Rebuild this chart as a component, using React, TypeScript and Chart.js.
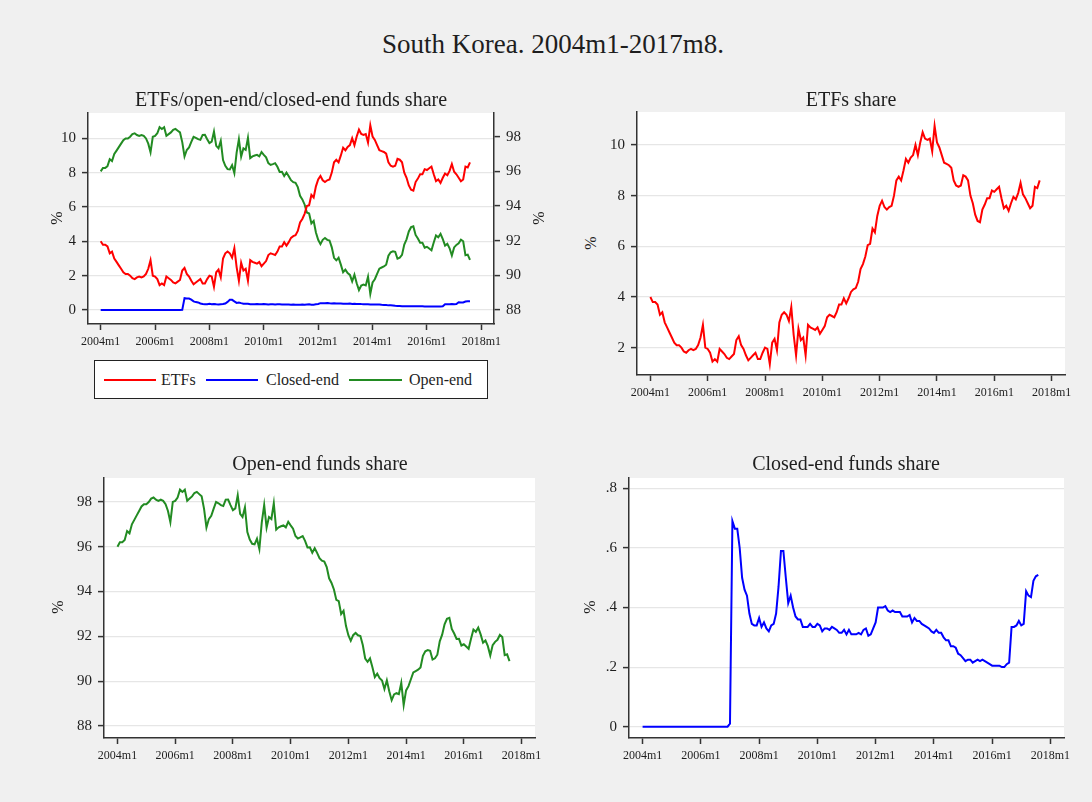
import React, { useEffect, useRef } from "react";
import { Chart, registerables } from "chart.js";

Chart.register(...registerables);

// Monthly shares, 2004m1 .. 2017m8 (164 months), in percent.
const etfShare = [
  4.0, 3.8, 3.8, 3.7, 3.3, 3.4, 3.0, 2.8, 2.6, 2.4, 2.2, 2.1,
  2.1, 2.0, 1.85, 1.8, 1.9, 1.95, 1.9, 1.95, 2.1, 2.4, 2.9, 2.0,
  1.95, 1.8, 1.45, 1.55, 1.45, 1.95, 1.85, 1.75, 1.6, 1.55, 1.65, 1.75,
  2.3, 2.45, 2.1, 1.95, 1.7, 1.5, 1.6, 1.7, 1.8, 1.55, 1.55, 1.8,
  2.0, 1.95, 1.35, 2.2, 2.35, 1.9, 3.0, 3.3, 3.4, 3.3, 3.05, 3.6,
  2.5, 1.7, 2.75, 2.3, 2.4, 1.7, 2.9, 2.8, 2.75, 2.7, 2.8, 2.55,
  2.7, 2.85, 3.2, 3.3, 3.25, 3.2, 3.4, 3.7, 3.7, 3.95, 3.75, 3.95,
  4.2, 4.3, 4.35, 4.6, 5.1, 5.3, 5.6, 6.05, 6.1, 6.7, 6.55, 7.2,
  7.6, 7.8, 7.55, 7.45, 7.55, 7.6, 8.0, 8.6, 8.75, 8.6, 9.0, 9.45,
  9.3, 9.5, 9.6, 10.0, 9.6, 10.1, 10.5, 10.25, 10.2, 10.25, 9.75, 10.75,
  10.1, 9.9, 9.6, 9.3, 9.25, 9.2, 9.1, 8.6, 8.4, 8.35, 8.4, 8.8,
  8.75, 8.6, 8.0, 7.7, 7.25, 7.0, 6.95, 7.45, 7.65, 7.9, 7.9, 8.2,
  8.15, 8.25, 8.35, 7.9, 7.5, 7.6, 7.4, 7.7, 7.95, 7.85, 8.1, 8.5,
  8.05, 7.9, 7.7, 7.5, 7.6, 8.35, 8.3, 8.6,
];

const closedShare = [
  0, 0, 0, 0, 0, 0, 0, 0, 0, 0, 0, 0,
  0, 0, 0, 0, 0, 0, 0, 0, 0, 0, 0, 0,
  0, 0, 0, 0, 0, 0, 0, 0, 0, 0, 0, 0,
  0.01, 0.69, 0.665, 0.665, 0.6, 0.5, 0.46, 0.44, 0.38, 0.345, 0.34, 0.34,
  0.365, 0.335, 0.35, 0.33, 0.32, 0.34, 0.345, 0.38, 0.47, 0.59, 0.59, 0.5,
  0.415, 0.44, 0.4, 0.37, 0.36, 0.36, 0.335, 0.335, 0.335, 0.345, 0.335, 0.335,
  0.345, 0.34, 0.32, 0.33, 0.33, 0.325, 0.335, 0.33, 0.325, 0.315, 0.315, 0.325,
  0.31, 0.325, 0.31, 0.31, 0.31, 0.315, 0.31, 0.325, 0.33, 0.305, 0.31, 0.33,
  0.35, 0.4, 0.4, 0.4, 0.405, 0.39, 0.385, 0.39, 0.385, 0.385, 0.385, 0.37,
  0.37, 0.37, 0.375, 0.35, 0.365, 0.355, 0.355, 0.345, 0.34, 0.335, 0.33, 0.32,
  0.315, 0.325, 0.315, 0.315, 0.3, 0.29, 0.29, 0.27, 0.27, 0.265, 0.245, 0.24,
  0.23, 0.22, 0.225, 0.225, 0.215, 0.22, 0.225, 0.22, 0.225, 0.22, 0.215, 0.21,
  0.205, 0.205, 0.205, 0.205, 0.2, 0.2, 0.21, 0.215, 0.335, 0.335, 0.34, 0.355,
  0.34, 0.345, 0.455, 0.44, 0.435, 0.49, 0.505, 0.51,
];

const openShare = [
  96.0, 96.2, 96.2, 96.3, 96.7, 96.6, 97.0, 97.2, 97.4, 97.6, 97.8, 97.9,
  97.9, 98.0, 98.15, 98.2, 98.1, 98.05, 98.1, 98.05, 97.9, 97.6, 97.1, 98.0,
  98.05, 98.2, 98.55, 98.45, 98.55, 98.05, 98.15, 98.25, 98.4, 98.45, 98.35, 98.25,
  97.69, 96.86, 97.235, 97.385, 97.7, 98.0, 97.94, 97.86, 97.82, 98.105, 98.11, 97.86,
  97.635, 97.715, 98.3, 97.47, 97.33, 97.76, 96.655, 96.32, 96.13, 96.11, 96.36, 95.9,
  97.085, 97.86, 96.85, 97.33, 97.24, 97.94, 96.765, 96.865, 96.915, 96.955, 96.865, 97.115,
  96.955, 96.81, 96.48, 96.37, 96.42, 96.475, 96.265, 95.97, 95.975, 95.735, 95.935, 95.725,
  95.49, 95.375, 95.34, 95.09, 94.59, 94.385, 94.09, 93.625, 93.57, 92.995, 93.14, 92.47,
  92.05, 91.8, 92.05, 92.15, 92.045, 92.01, 91.615, 91.01, 90.865, 91.015, 90.615, 90.18,
  90.33, 90.13, 90.025, 89.65, 90.035, 89.545, 89.145, 89.405, 89.46, 89.415, 89.92, 88.93,
  89.585, 89.775, 90.085, 90.385, 90.45, 90.51, 90.61, 91.13, 91.33, 91.385, 91.355, 90.96,
  91.02, 91.18, 91.775, 92.075, 92.535, 92.78, 92.825, 92.33, 92.125, 91.88, 91.885, 91.59,
  91.645, 91.545, 91.445, 91.895, 92.3, 92.2, 92.39, 92.085, 91.715, 91.815, 91.56, 91.145,
  91.61, 91.755, 91.845, 92.06, 91.965, 91.16, 91.195, 90.89,
];

// X axis: months counted from 2004m1.
const xTickMonths = [0, 24, 48, 72, 96, 120, 144, 168];
const xTickLabels = ["2004m1", "2006m1", "2008m1", "2010m1", "2012m1", "2014m1", "2016m1", "2018m1"];

const shareTicks = [0, 2, 4, 6, 8, 10];
const shareTickLabels = ["0", "2", "4", "6", "8", "10"];
const etfTicks = [2, 4, 6, 8, 10];
const etfTickLabels = ["2", "4", "6", "8", "10"];
const openTicks = [88, 90, 92, 94, 96, 98];
const openTickLabels = ["88", "90", "92", "94", "96", "98"];
const closedTicks = [0, 0.2, 0.4, 0.6, 0.8];
const closedTickLabels = ["0", ".2", ".4", ".6", ".8"];

const SERIF = "'Liberation Serif', 'Times New Roman', serif";
const RED = "#ff0000";
const BLUE = "#0000ff";
const GREEN = "#228b22";
const AXIS = "#333333";
const GRID = "#e6e6e6";
const INK = "#1e1e1e";
const X_MIN = -5.6;
const X_MAX = 173.6;

const toPoints = (values: number[]) => values.map((v, i) => ({ x: i, y: v }));

const plotBackground = {
  id: "plotBackground",
  beforeDraw(chart: any) {
    const { ctx, chartArea: a } = chart;
    ctx.save();
    ctx.fillStyle = "#ffffff";
    ctx.fillRect(a.left, a.top, a.right - a.left, a.bottom - a.top);
    ctx.restore();
  },
};

function xScale(height: number) {
  return {
    type: "linear",
    min: X_MIN,
    max: X_MAX,
    bounds: "data",
    afterBuildTicks: (s: any) => {
      s.ticks = xTickMonths.map((v) => ({ value: v }));
    },
    afterFit: (s: any) => {
      s.height = height;
      s.paddingLeft = 0;
      s.paddingRight = 0;
    },
    ticks: {
      autoSkip: false,
      maxRotation: 0,
      minRotation: 0,
      padding: 5,
      color: INK,
      font: { family: SERIF, size: 12 },
      callback: (_v: any, i: number) => xTickLabels[i],
    },
    grid: {
      drawOnChartArea: false,
      drawTicks: true,
      tickLength: 6,
      tickColor: AXIS,
      tickWidth: 1.5,
    },
    border: { display: true, color: AXIS, width: 1.5 },
  };
}

function yScale(
  min: number,
  max: number,
  ticks: number[],
  labels: string[],
  width: number,
  position: "left" | "right" = "left",
  showGrid = true
) {
  return {
    type: "linear",
    position,
    min,
    max,
    bounds: "data",
    afterBuildTicks: (s: any) => {
      s.ticks = ticks.map((v) => ({ value: v }));
    },
    afterFit: (s: any) => {
      s.width = width;
      s.paddingTop = 0;
      s.paddingBottom = 0;
    },
    ticks: {
      padding: 6,
      color: INK,
      font: { family: SERIF, size: 15 },
      callback: (_v: any, i: number) => labels[i],
    },
    grid: {
      drawOnChartArea: showGrid,
      color: GRID,
      lineWidth: 1.2,
      drawTicks: true,
      tickLength: 6,
      tickColor: AXIS,
      tickWidth: 1.5,
    },
    border: { display: true, color: AXIS, width: 1.5 },
  };
}

function line(label: string, values: number[], color: string, yAxisID = "y") {
  return {
    label,
    data: toPoints(values),
    borderColor: color,
    backgroundColor: color,
    borderWidth: 2,
    pointRadius: 0,
    tension: 0,
    fill: false,
    yAxisID,
  };
}

type PanelProps = {
  left: number;
  top: number;
  width: number;
  height: number;
  padTop: number;
  padRight: number;
  datasets: any[];
  scales: any;
};

function Panel({ left, top, width, height, padTop, padRight, datasets, scales }: PanelProps) {
  const ref = useRef<HTMLCanvasElement | null>(null);
  useEffect(() => {
    if (!ref.current) return;
    const chart = new Chart(ref.current, {
      type: "line",
      data: { datasets },
      options: {
        responsive: false,
        animation: false,
        devicePixelRatio: 1,
        layout: { padding: { top: padTop, right: padRight, left: 0, bottom: 0 } },
        plugins: { legend: { display: false }, tooltip: { enabled: false } },
        scales,
      } as any,
      plugins: [plotBackground],
    } as any);
    return () => chart.destroy();
  }, []);
  return (
    <canvas
      ref={ref}
      width={width}
      height={height}
      style={{ position: "absolute", left, top, width, height }}
    />
  );
}

function Title({ text, cx, cy, size }: { text: string; cx: number; cy: number; size: number }) {
  return (
    <div
      style={{
        position: "absolute",
        left: cx - 300,
        top: cy - size * 0.6,
        width: 600,
        textAlign: "center",
        fontFamily: SERIF,
        fontSize: size,
        lineHeight: `${size * 1.2}px`,
        color: INK,
        whiteSpace: "nowrap",
      }}
    >
      {text}
    </div>
  );
}

function AxisTitle({ cx, cy }: { cx: number; cy: number }) {
  return (
    <div
      style={{
        position: "absolute",
        left: cx,
        top: cy,
        transform: "translate(-50%, -50%) rotate(-90deg)",
        fontFamily: SERIF,
        fontSize: 16,
        lineHeight: "16px",
        color: INK,
      }}
    >
      %
    </div>
  );
}

function LegendItem({ x1, x2, tx, color, label }: { x1: number; x2: number; tx: number; color: string; label: string }) {
  return (
    <>
      <div style={{ position: "absolute", left: x1, top: 379, width: x2 - x1, height: 2, background: color }} />
      <div
        style={{
          position: "absolute",
          left: tx,
          top: 370,
          fontFamily: SERIF,
          fontSize: 16,
          lineHeight: "20px",
          color: INK,
          whiteSpace: "nowrap",
        }}
      >
        {label}
      </div>
    </>
  );
}

export default function App() {
  return (
    <div
      style={{
        position: "absolute",
        left: 0,
        top: 0,
        width: 1092,
        height: 802,
        background: "#f0f0f0",
        overflow: "hidden",
      }}
    >
      {/* Combined panel: ETFs and closed-end on the left axis, open-end on the right axis */}
      <Panel
        left={40}
        top={100}
        width={490}
        height={260}
        padTop={13}
        padRight={0}
        datasets={[
          line("ETFs", etfShare, RED, "y"),
          line("Closed-end", closedShare, BLUE, "y"),
          line("Open-end", openShare, GREEN, "y1"),
        ]}
        scales={{
          x: xScale(36),
          y: yScale(-0.815, 11.47, shareTicks, shareTickLabels, 48, "left", true),
          y1: yScale(87.19, 99.37, openTicks, openTickLabels, 36, "right", false),
        }}
      />
      {/* ETFs share */}
      <Panel
        left={600}
        top={100}
        width={480}
        height={310}
        padTop={12}
        padRight={15}
        datasets={[line("ETFs", etfShare, RED)]}
        scales={{
          x: xScale(35),
          y: yScale(0.922, 11.3, etfTicks, etfTickLabels, 37),
        }}
      />
      {/* Open-end funds share */}
      <Panel
        left={64}
        top={465}
        width={486}
        height={310}
        padTop={13}
        padRight={15}
        datasets={[line("Open-end", openShare, GREEN)]}
        scales={{
          x: xScale(37),
          y: yScale(87.46, 99.07, openTicks, openTickLabels, 40),
        }}
      />
      {/* Closed-end funds share */}
      <Panel
        left={595}
        top={465}
        width={485}
        height={310}
        padTop={13}
        padRight={16}
        datasets={[line("Closed-end", closedShare, BLUE)]}
        scales={{
          x: xScale(37),
          y: yScale(-0.038, 0.835, closedTicks, closedTickLabels, 34),
        }}
      />

      <Title text="South Korea. 2004m1-2017m8." cx={553} cy={44} size={27} />
      <Title text="ETFs/open-end/closed-end funds share" cx={291} cy={99} size={20} />
      <Title text="ETFs share" cx={851} cy={99} size={20} />
      <Title text="Open-end funds share" cx={320} cy={463} size={20} />
      <Title text="Closed-end funds share" cx={846} cy={463} size={20} />

      <AxisTitle cx={57} cy={218} />
      <AxisTitle cx={539} cy={218} />
      <AxisTitle cx={591} cy={243} />
      <AxisTitle cx={58} cy={607} />
      <AxisTitle cx={590} cy={607} />

      {/* Legend of the combined panel */}
      <div
        style={{
          position: "absolute",
          left: 94,
          top: 360,
          width: 392,
          height: 37,
          background: "#ffffff",
          border: "1px solid #222",
        }}
      />
      <LegendItem x1={104} x2={156} tx={161} color={RED} label="ETFs" />
      <LegendItem x1={206} x2={258} tx={266} color={BLUE} label="Closed-end" />
      <LegendItem x1={349} x2={402} tx={409} color={GREEN} label="Open-end" />
    </div>
  );
}
